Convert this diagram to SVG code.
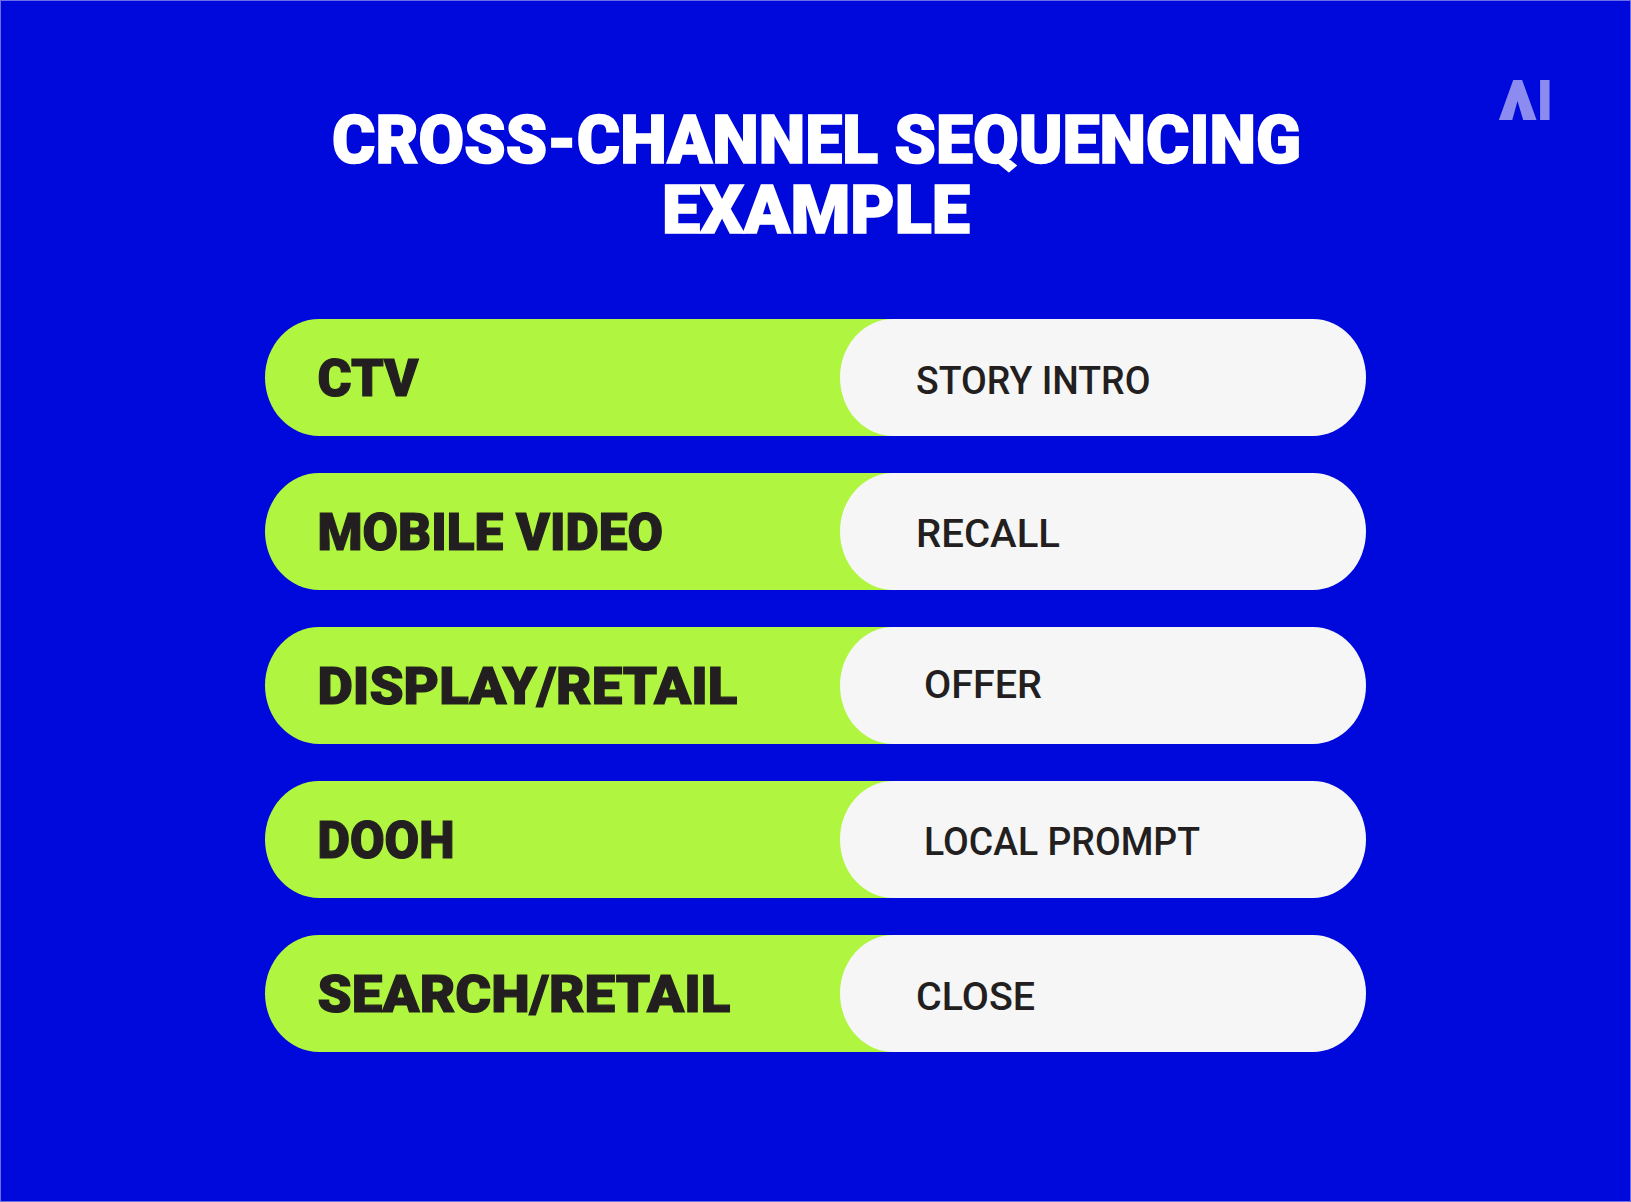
<svg xmlns="http://www.w3.org/2000/svg" width="1631" height="1202" viewBox="0 0 1631 1202">
<style>
.title{font-family:"Roboto","Liberation Sans",sans-serif;font-weight:900;font-size:67px;fill:#fff;stroke:#fff;stroke-width:1.6px}
.ch{font-family:"Roboto","Liberation Sans",sans-serif;font-weight:900;font-size:52px;fill:#231f20;stroke:#231f20;stroke-width:1.2px}
.ms{font-family:"Roboto","Liberation Sans",sans-serif;font-weight:500;font-size:39px;fill:#231f20}
.g{fill:#b0f540}.w{fill:#f6f6f6}
</style>
<rect x="0.5" y="0.5" width="1630" height="1201" fill="#0009db" stroke="#6a6fe8" stroke-width="1"/>
<g id="title">
<text class="title"><tspan x="332" y="163.2" textLength="969" lengthAdjust="spacingAndGlyphs">CROSS-CHANNEL SEQUENCING</tspan><tspan x="662" y="233.200" textLength="308" lengthAdjust="spacingAndGlyphs">EXAMPLE</tspan></text>
</g>
<g id="logo">
<text x="1499" y="120" font-family="Roboto, 'Liberation Sans', sans-serif" font-weight="900" font-size="56" fill="#8c8cf0" textLength="54" lengthAdjust="spacingAndGlyphs">AI</text>
<polygon points="1517,84 1506,120 1529,120" fill="#8c8cf0"/>
<polygon points="1517.500,101 1512,121 1523.500,121" fill="#0009db"/>
</g>
<g id="row-ctv">
<rect class="g" x="265" y="319" width="700" height="117" rx="54" ry="58.5"/>
<rect class="w" x="840" y="319" width="526" height="117" rx="53" ry="58.5"/>
<text class="ch" x="317.500" y="396.400" textLength="101" lengthAdjust="spacingAndGlyphs">CTV</text>
<text class="ms" x="916" y="393.500" textLength="234.500" lengthAdjust="spacingAndGlyphs">STORY INTRO</text>
</g>
<g id="row-mobile-video">
<rect class="g" x="265" y="473" width="700" height="117" rx="54" ry="58.5"/>
<rect class="w" x="840" y="473" width="526" height="117" rx="53" ry="58.5"/>
<text class="ch" x="317.500" y="550.400" textLength="345.500" lengthAdjust="spacingAndGlyphs">MOBILE VIDEO</text>
<text class="ms" x="916" y="547" textLength="144" lengthAdjust="spacingAndGlyphs">RECALL</text>
</g>
<g id="row-display-retail">
<rect class="g" x="265" y="627" width="700" height="117" rx="54" ry="58.5"/>
<rect class="w" x="840" y="627" width="526" height="117" rx="53" ry="58.5"/>
<text class="ch" x="317.500" y="704.400" textLength="420" lengthAdjust="spacingAndGlyphs">DISPLAY/RETAIL</text>
<text class="ms" x="924" y="697.500" textLength="118" lengthAdjust="spacingAndGlyphs">OFFER</text>
</g>
<g id="row-dooh">
<rect class="g" x="265" y="781" width="700" height="117" rx="54" ry="58.5"/>
<rect class="w" x="840" y="781" width="526" height="117" rx="53" ry="58.5"/>
<text class="ch" x="317.500" y="858.400" textLength="137" lengthAdjust="spacingAndGlyphs">DOOH</text>
<text class="ms" x="924" y="855" textLength="276" lengthAdjust="spacingAndGlyphs">LOCAL PROMPT</text>
</g>
<g id="row-search-retail">
<rect class="g" x="265" y="935" width="700" height="117" rx="54" ry="58.5"/>
<rect class="w" x="840" y="935" width="526" height="117" rx="53" ry="58.5"/>
<text class="ch" x="317.500" y="1012.400" textLength="413" lengthAdjust="spacingAndGlyphs">SEARCH/RETAIL</text>
<text class="ms" x="916" y="1009.500" textLength="119" lengthAdjust="spacingAndGlyphs">CLOSE</text>
</g>
<g id="connectors"></g>
</svg>
